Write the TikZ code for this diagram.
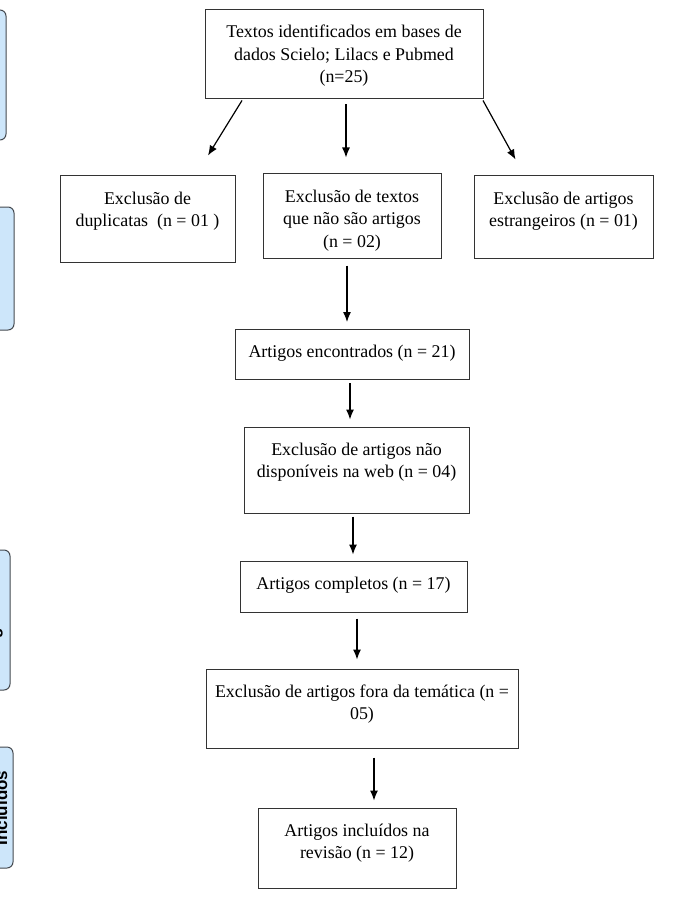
\documentclass[tikz,border=0pt]{standalone}
\usepackage{fontspec}
\setmainfont{Liberation Serif}
\newfontfamily\sidefont{Liberation Sans}
\usetikzlibrary{arrows.meta}
\definecolor{sideblue}{HTML}{CDE6FA}
\definecolor{sideline}{HTML}{454A50}
\newcommand{\bx}[3]{\parbox[c][#2][t]{#1}{\centering\vspace*{12.25pt}\strut#3}}
\begin{document}
\begin{tikzpicture}[x=1pt,y=-1pt,font=\fontsize{17.9}{22.5}\selectfont]

      \useasboundingbox (0,0) rectangle (678,904);

      % side bars, cut by the page edge
      \begin{scope}
        \clip (0,0) rectangle (678,904);
        \begin{scope}[every node/.style={draw=sideline,fill=sideblue,line width=1pt,
            rounded corners=6pt,minimum width=60pt,inner sep=0pt}]
          \node[minimum height=130pt] (a) at (-24,75) {};
          \node[minimum height=123pt] (b) at (-16,268.5) {};
          \node[minimum height=140pt] (c) at (-20,620) {};
          \node[minimum height=121pt] (d) at (-17,807.5) {};
        \end{scope}
        \begin{scope}[every node/.style={rotate=90,anchor=base,inner sep=0pt,
            font=\sidefont\bfseries\fontsize{17}{20}\selectfont}]
          \node (ct) at (-1,612) {Elegibilidade};
          \node (dt) at (7,808) {Incluídos};
        \end{scope}
      \end{scope}

      \begin{scope}[every node/.style={draw=black!80,line width=1pt,inner sep=0pt}]
        \node (1) at (344,54.5)  {\bx{278pt}{89pt}{Textos identificados em bases de\\dados Scielo; Lilacs e Pubmed\\(n=25)}};
        \node (2) at (147.5,219) {\bx{175pt}{86pt}{Exclusão de\\duplicatas\ \ (n = 01 )}};
        \node (3) at (352,216)   {\bx{178pt}{84pt}{Exclusão de textos\\que não são artigos\\(n = 02)}};
        \node (4) at (563.5,217) {\bx{179pt}{82pt}{Exclusão de artigos\\estrangeiros (n = 01)}};
        \node (5) at (352,354.5) {\bx{234pt}{50pt}{Artigos encontrados (n = 21)}};
        \node (6) at (356.5,470) {\bx{225pt}{86pt}{Exclusão de artigos não\\disponíveis na web (n = 04)}};
        \node (7) at (353.5,586.5) {\bx{227pt}{51pt}{Artigos completos (n = 17)}};
        \node (8) at (362,708.5) {\bx{312pt}{79pt}{Exclusão de artigos fora da temática (n =\\05)}};
        \node (9) at (357,848)   {\bx{198pt}{80pt}{Artigos incluídos na\\revisão (n = 12)}};
      \end{scope}

      \begin{scope}[every edge/.style={draw,line width=1.2pt,-{Latex[length=10pt,width=8pt]}}]
        \path ([xshift=-102pt,yshift=-1pt]1.south) edge ([xshift=60.5pt,yshift=20pt]2.north);
        \path ([xshift=2pt,yshift=-5pt]1.south)    edge ([xshift=-6pt,yshift=16pt]3.north);
        \path ([xshift=139pt,yshift=-1pt]1.south)  edge ([xshift=-48pt,yshift=16pt]4.north);
        \path ([xshift=-5pt,yshift=-7pt]3.south)   edge ([xshift=-5pt,yshift=7pt]5.north);
        \path ([xshift=-2pt,yshift=-3pt]5.south)   edge ([xshift=-6.5pt,yshift=7pt]6.north);
        \path ([xshift=-3.5pt,yshift=-3pt]6.south) edge ([xshift=-.5pt,yshift=6pt]7.north);
        \path ([xshift=3.5pt,yshift=-6pt]7.south)  edge ([xshift=-5pt,yshift=9pt]8.north);
        \path ([xshift=12pt,yshift=-9pt]8.south)   edge ([xshift=17pt,yshift=7pt]9.north);
      \end{scope}

    \end{tikzpicture}
\end{document}
